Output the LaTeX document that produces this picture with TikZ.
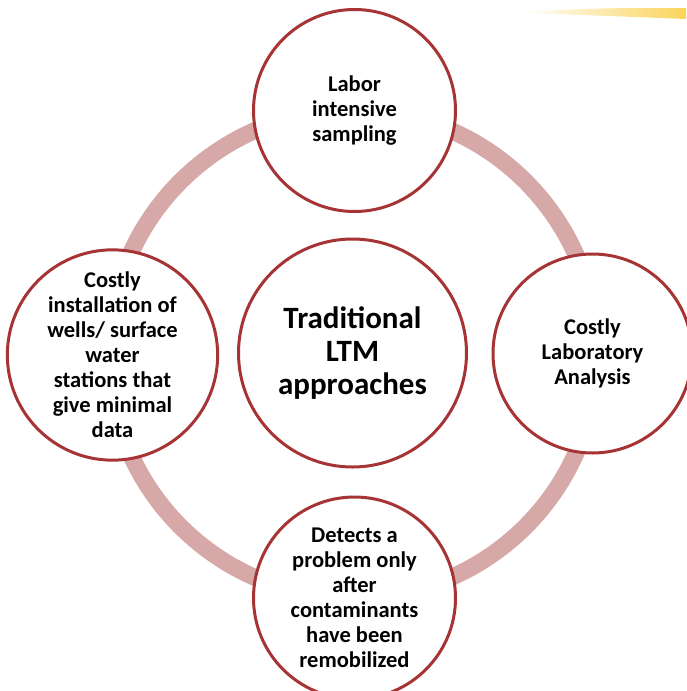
\documentclass[tikz,border=0pt]{standalone}
\usepackage{fontspec}
\setmainfont{Carlito}
\usepackage{tikz}
\usetikzlibrary{positioning,fadings}

\definecolor{ringpink}{RGB}{214,168,168}
\definecolor{bubbleborder}{RGB}{166,52,52}
\definecolor{streakyellow}{RGB}{250,212,90}

\begin{document}
\begin{tikzpicture}[x=1pt,y=-1pt]
\tikzset{RING/.style={draw=ringpink,line width=17pt}}
\tikzset{BUBBLE/.style={draw=bubbleborder,line width=3pt,fill=white,circle,inner sep=0pt,align=center,font=\bfseries\fontsize{22.5}{25}\selectfont}}
\tikzset{HUB/.style={BUBBLE,minimum size=228pt,font=\bfseries\fontsize{31}{33}\selectfont}}

\useasboundingbox (0,0) rectangle (686,691);

% streak in the corner
\fill[streakyellow,path fading=west] (522,12) .. controls (600,8) .. (686,8) -- (686,19) .. controls (610,16) .. (522,13) -- cycle;

% the ring behind everything
\coordinate (hub) at (353,354);
\draw[RING] (hub) circle (244pt);

\node[HUB] (approaches) at (352.5,353) {Traditional\\LTM\\approaches};

\node[BUBBLE,minimum size=202pt] (sampling) at (354.5,110.5) {Labor\\intensive\\sampling};
\node[BUBBLE,minimum size=199pt] (analysis) at (592.5,353.5) {Costly\\Laboratory\\Analysis};
\node[BUBBLE,minimum size=202pt] (detects) at (354.5,598) {Detects a\\problem only\\after\\contaminants\\have been\\remobilized};
\node[BUBBLE,minimum size=198pt] (wells) at (112.5,355) {Costly\\installation of\\wells/ surface\\water\\stations that\\give minimal\\data};

\end{tikzpicture}
\end{document}
